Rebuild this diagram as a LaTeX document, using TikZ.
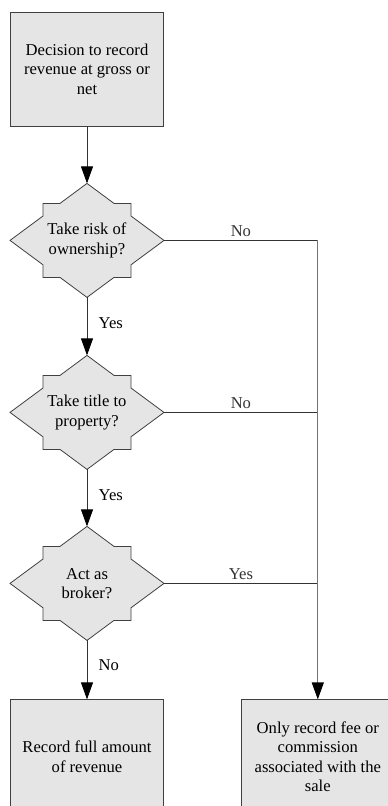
\documentclass[tikz,border=0pt]{standalone}
\usepackage{fontspec}
\setmainfont{Liberation Serif}
\usetikzlibrary{calc,positioning,arrows.meta,backgrounds}

% outline of a decision star round a named node
\newcommand{\starshape}[1]{%
    \begin{scope}[on background layer]
        \draw[starline]
            (#1.north) --
            ($(#1.center)+(-27,37)$) -- ($(#1.center)+(-44,37)$) --
            ($(#1.center)+(-44,24.4)$) -- (#1.west) --
            ($(#1.center)+(-44,-24.4)$) -- ($(#1.center)+(-44,-37)$) --
            ($(#1.center)+(-27,-37)$) -- (#1.south) --
            ($(#1.center)+(27,-37)$) -- ($(#1.center)+(44,-37)$) --
            ($(#1.center)+(44,-24.4)$) -- (#1.east) --
            ($(#1.center)+(44,24.4)$) -- ($(#1.center)+(44,37)$) --
            ($(#1.center)+(27,37)$) -- cycle;
    \end{scope}}

\begin{document}
\begin{tikzpicture}[x=1pt, y=1pt, align=center,
    font=\fontsize{16.6}{19.5}\selectfont,
    procbox/.style={draw=black!75, fill=black!10, line width=0.8pt, minimum width=153pt, minimum height=114pt, inner sep=0pt},
    decision/.style={minimum width=154pt, minimum height=114pt, inner sep=0pt, outer sep=0pt},
    starline/.style={draw=black!75, fill=black!10, line width=0.8pt, line join=miter},
    flow/.style={draw=black!80, line width=0.8pt, -{Triangle[length=17pt, width=12pt, color=black]}}]

    \useasboundingbox (0,0) rectangle (388,-806);

    \node [procbox] (decide) at (87,-69) {Decision to record\\revenue at gross or\\net};

    \node [decision, below=57pt of decide] (risk) {Take risk of\\ownership?};
    \node [decision, below=58pt of risk] (title) {Take title to\\property?};
    \node [decision, below=57pt of title] (broker) {Act as\\broker?};

    \node [procbox, below=59pt of broker] (full) {Record full amount\\of revenue};
    \node [procbox, right=77pt of full] (fee) {Only record fee or\\commission\\associated with the\\sale};

    \starshape{risk}
    \starshape{title}
    \starshape{broker}

    \coordinate (riskjoin) at (risk.east -| fee.north);

    \draw[flow] (decide) -- (risk);
    \draw[flow] (risk) -- node[right, xshift=8pt, yshift=3pt] {Yes} (title);
    \draw[flow] (title) -- node[right, xshift=8pt, yshift=3pt] {Yes} (broker);
    \draw[flow] (broker) -- node[right, xshift=8pt, yshift=5pt] {No} (full);

    \draw[black!80, line width=0.8pt] (risk.east) -- node[above] {No} (riskjoin);
    \draw[black!80, line width=0.8pt] (title.east) -- node[above] {No} (title.east -| fee.north);
    \draw[black!80, line width=0.8pt] (broker.east) -- node[above] {Yes} (broker.east -| fee.north);
    \draw[flow, draw=black!55, line width=1.2pt] (riskjoin) -- (fee.north);

\end{tikzpicture}
\end{document}
